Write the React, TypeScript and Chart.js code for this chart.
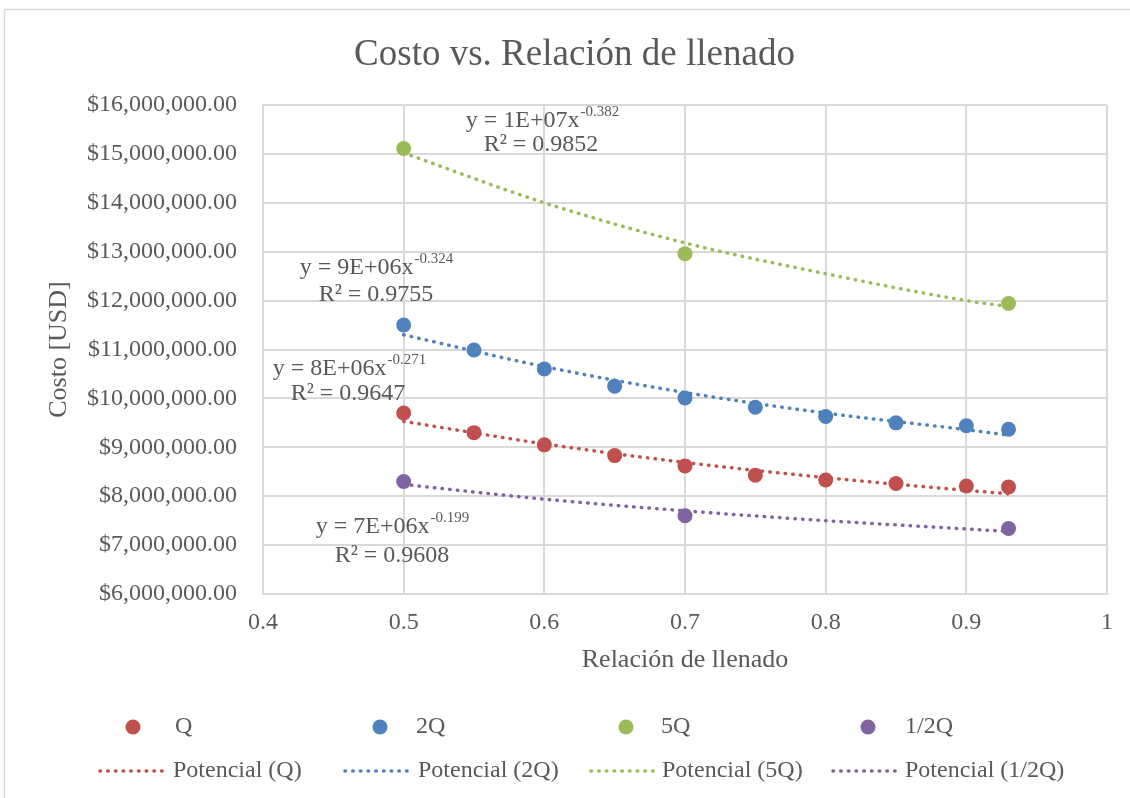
import React, { useEffect, useRef } from "react";
import { Chart, registerables } from "chart.js";

Chart.register(...registerables);

const FONT = "'Liberation Serif', 'Times New Roman', serif";
const TEXT = "#595959";
const GRID = "#d9d9d9";

// ---------- data ----------
const seriesNames = ["Q", "2Q", "5Q", "1/2Q"];
const trendNames = ["Potencial (Q)", "Potencial (2Q)", "Potencial (5Q)", "Potencial (1/2Q)"];
const seriesColors = ["#C0504D", "#4F81BD", "#9BBB59", "#8064A2"];

const xQ = [0.5, 0.55, 0.6, 0.65, 0.7, 0.75, 0.8, 0.85, 0.9, 0.93];
const costQ = [9700000, 9300000, 9050000, 8830000, 8620000, 8430000, 8330000, 8260000, 8210000, 8190000];

const x2Q = [0.5, 0.55, 0.6, 0.65, 0.7, 0.75, 0.8, 0.85, 0.9, 0.93];
const cost2Q = [11500000, 10990000, 10600000, 10250000, 10010000, 9820000, 9630000, 9500000, 9440000, 9370000];

const x5Q = [0.5, 0.7, 0.93];
const cost5Q = [15110000, 12960000, 11940000];

const xHalfQ = [0.5, 0.7, 0.93];
const costHalfQ = [8300000, 7600000, 7340000];

// trendline values
const xTrend = [0.5, 0.6, 0.7, 0.8, 0.9, 0.93];
const trendQ = [9530000, 9070000, 8690000, 8380000, 8120000, 8050000];
const trend2Q = [11300000, 10650000, 10120000, 9700000, 9360000, 9250000];
const trend5Q = [15020000, 14000000, 13180000, 12550000, 12000000, 11880000];
const trendHalfQ = [8240000, 7940000, 7700000, 7500000, 7330000, 7280000];

// trendline equation labels
const eqCoef = ["8E+06", "9E+06", "1E+07", "7E+06"];
const eqExp = ["-0.271", "-0.324", "-0.382", "-0.199"];
const eqR2 = ["0.9647", "0.9755", "0.9852", "0.9608"];

// axis
const xMin = 0.4;
const xMax = 1;
const xStep = 0.1;
const yMin = 6000000;
const yMax = 16000000;
const yStep = 1000000;

// ---------- layout (pixels) ----------
const eqPos = [
  { x1: 349, y1: 369, x2: 348, y2: 394 },
  { x1: 376, y1: 268, x2: 376, y2: 295 },
  { x1: 542, y1: 121, x2: 541, y2: 145 },
  { x1: 392, y1: 527, x2: 392, y2: 556 },
];
const legendMarkerX = [133, 380, 626, 868];
const legendTextX1 = [175, 416, 661, 905];
const legendLineX = [
  [100, 168],
  [345, 412],
  [591, 657],
  [833, 900],
];
const legendTextX2 = [173, 418, 662, 905];
const legendRow1 = 727;
const legendRow2 = 771;

const toPts = (xs: number[], ys: number[]) => xs.map((x, i) => ({ x, y: ys[i] }));

const pointSets = [toPts(xQ, costQ), toPts(x2Q, cost2Q), toPts(x5Q, cost5Q), toPts(xHalfQ, costHalfQ)];
const trendSets = [
  toPts(xTrend, trendQ),
  toPts(xTrend, trend2Q),
  toPts(xTrend, trend5Q),
  toPts(xTrend, trendHalfQ),
];

const DOT_DASH = [0.5, 7.2];
const DOT_WIDTH = 3.5;

const decorPlugin = {
  id: "decor",
  beforeDraw(chart: any) {
    const ctx = chart.ctx;
    ctx.save();
    ctx.fillStyle = "#ffffff";
    ctx.fillRect(0, 0, chart.width, chart.height);
    ctx.strokeStyle = GRID;
    ctx.lineWidth = 1.5;
    ctx.strokeRect(4.5, 9.5, chart.width + 20, chart.height + 20);
    ctx.restore();
  },
  afterDraw(chart: any) {
    const ctx = chart.ctx;
    ctx.save();
    ctx.fillStyle = TEXT;
    ctx.textBaseline = "middle";
    ctx.textAlign = "left";
    // equations
    for (let i = 0; i < 4; i++) {
      const p = eqPos[i];
      const big = `24px ${FONT}`;
      const small = `15px ${FONT}`;
      const base = `y = ${eqCoef[i]}x`;
      ctx.font = big;
      const wb = ctx.measureText(base).width;
      ctx.font = small;
      const we = ctx.measureText(eqExp[i]).width;
      const start = p.x1 - (wb + we) / 2;
      ctx.font = big;
      ctx.fillText(base, start, p.y1);
      ctx.font = small;
      ctx.fillText(eqExp[i], start + wb + 1, p.y1 - 9);
      ctx.font = big;
      const r2 = `R² = ${eqR2[i]}`;
      const wr = ctx.measureText(r2).width;
      ctx.fillText(r2, p.x2 - wr / 2, p.y2);
    }
    // legend
    const ds = chart.data.datasets;
    ctx.font = `24px ${FONT}`;
    for (let i = 0; i < 4; i++) {
      const pd = ds[4 + i];
      const td = ds[i];
      ctx.fillStyle = pd.backgroundColor;
      ctx.beginPath();
      ctx.arc(legendMarkerX[i], legendRow1, 7.5, 0, Math.PI * 2);
      ctx.fill();
      ctx.fillStyle = TEXT;
      ctx.fillText(pd.label, legendTextX1[i], legendRow1);

      ctx.strokeStyle = td.borderColor;
      ctx.lineWidth = DOT_WIDTH;
      ctx.lineCap = "round";
      ctx.setLineDash(DOT_DASH);
      ctx.beginPath();
      ctx.moveTo(legendLineX[i][0], legendRow2);
      ctx.lineTo(legendLineX[i][1], legendRow2);
      ctx.stroke();
      ctx.setLineDash([]);
      ctx.fillStyle = TEXT;
      ctx.fillText(td.label, legendTextX2[i], legendRow2);
    }
    ctx.restore();
  },
};

export default function App() {
  const ref = useRef<HTMLCanvasElement | null>(null);
  useEffect(() => {
    if (!ref.current) return;
    const datasets: any[] = [];
    for (let i = 0; i < 4; i++) {
      datasets.push({
        label: trendNames[i],
        data: trendSets[i],
        showLine: true,
        borderColor: seriesColors[i],
        backgroundColor: seriesColors[i],
        borderWidth: DOT_WIDTH,
        borderDash: DOT_DASH,
        borderCapStyle: "round",
        cubicInterpolationMode: "monotone",
        pointRadius: 0,
        pointHoverRadius: 0,
        order: 0,
      });
    }
    for (let i = 0; i < 4; i++) {
      datasets.push({
        label: seriesNames[i],
        data: pointSets[i],
        showLine: false,
        borderColor: seriesColors[i],
        backgroundColor: seriesColors[i],
        pointRadius: 7.5,
        pointBorderWidth: 0,
        order: 1,
      });
    }
    const chart = new Chart(ref.current, {
      type: "scatter",
      data: { datasets },
      plugins: [decorPlugin],
      options: {
        animation: false,
        responsive: false,
        devicePixelRatio: 1,
        layout: { padding: { left: 42, right: 23, top: 0, bottom: 122 } },
        plugins: {
          legend: { display: false },
          tooltip: { enabled: false },
          title: {
            display: true,
            text: "Costo vs. Relación de llenado",
            color: TEXT,
            font: { family: FONT, size: 37, weight: "normal" },
            padding: { top: 33, bottom: 27.6 },
          },
        },
        scales: {
          x: {
            type: "linear",
            min: xMin,
            max: xMax,
            afterFit: (s: any) => {
              s.height = 82;
            },
            ticks: {
              stepSize: xStep,
              color: TEXT,
              padding: 14,
              font: { family: FONT, size: 24 },
              callback: (v: any) => String(Number(Number(v).toFixed(1))),
            },
            grid: { color: GRID, lineWidth: 2, drawTicks: false },
            border: { color: GRID, width: 2 },
            title: {
              display: true,
              text: "Relación de llenado",
              color: TEXT,
              font: { family: FONT, size: 26 },
              padding: { top: 0, bottom: 0 },
            },
          },
          y: {
            type: "linear",
            min: yMin,
            max: yMax,
            afterFit: (s: any) => {
              s.width = 221;
            },
            ticks: {
              stepSize: yStep,
              color: TEXT,
              padding: 26,
              font: { family: FONT, size: 24 },
              callback: (v: any) =>
                "$" + Number(v).toLocaleString("en-US", { minimumFractionDigits: 2, maximumFractionDigits: 2 }),
            },
            grid: { color: GRID, lineWidth: 2, drawTicks: false },
            border: { color: GRID, width: 2 },
            title: {
              display: true,
              text: "Costo [USD]",
              color: TEXT,
              font: { family: FONT, size: 26 },
              padding: { top: 2, bottom: 0 },
            },
          },
        },
      },
    } as any);
    return () => chart.destroy();
  }, []);
  return (
    <div style={{ position: "absolute", left: 0, top: 0, width: 1130, height: 798, background: "#fff" }}>
      <canvas ref={ref} width={1130} height={798} style={{ width: 1130, height: 798, display: "block" }} />
    </div>
  );
}
